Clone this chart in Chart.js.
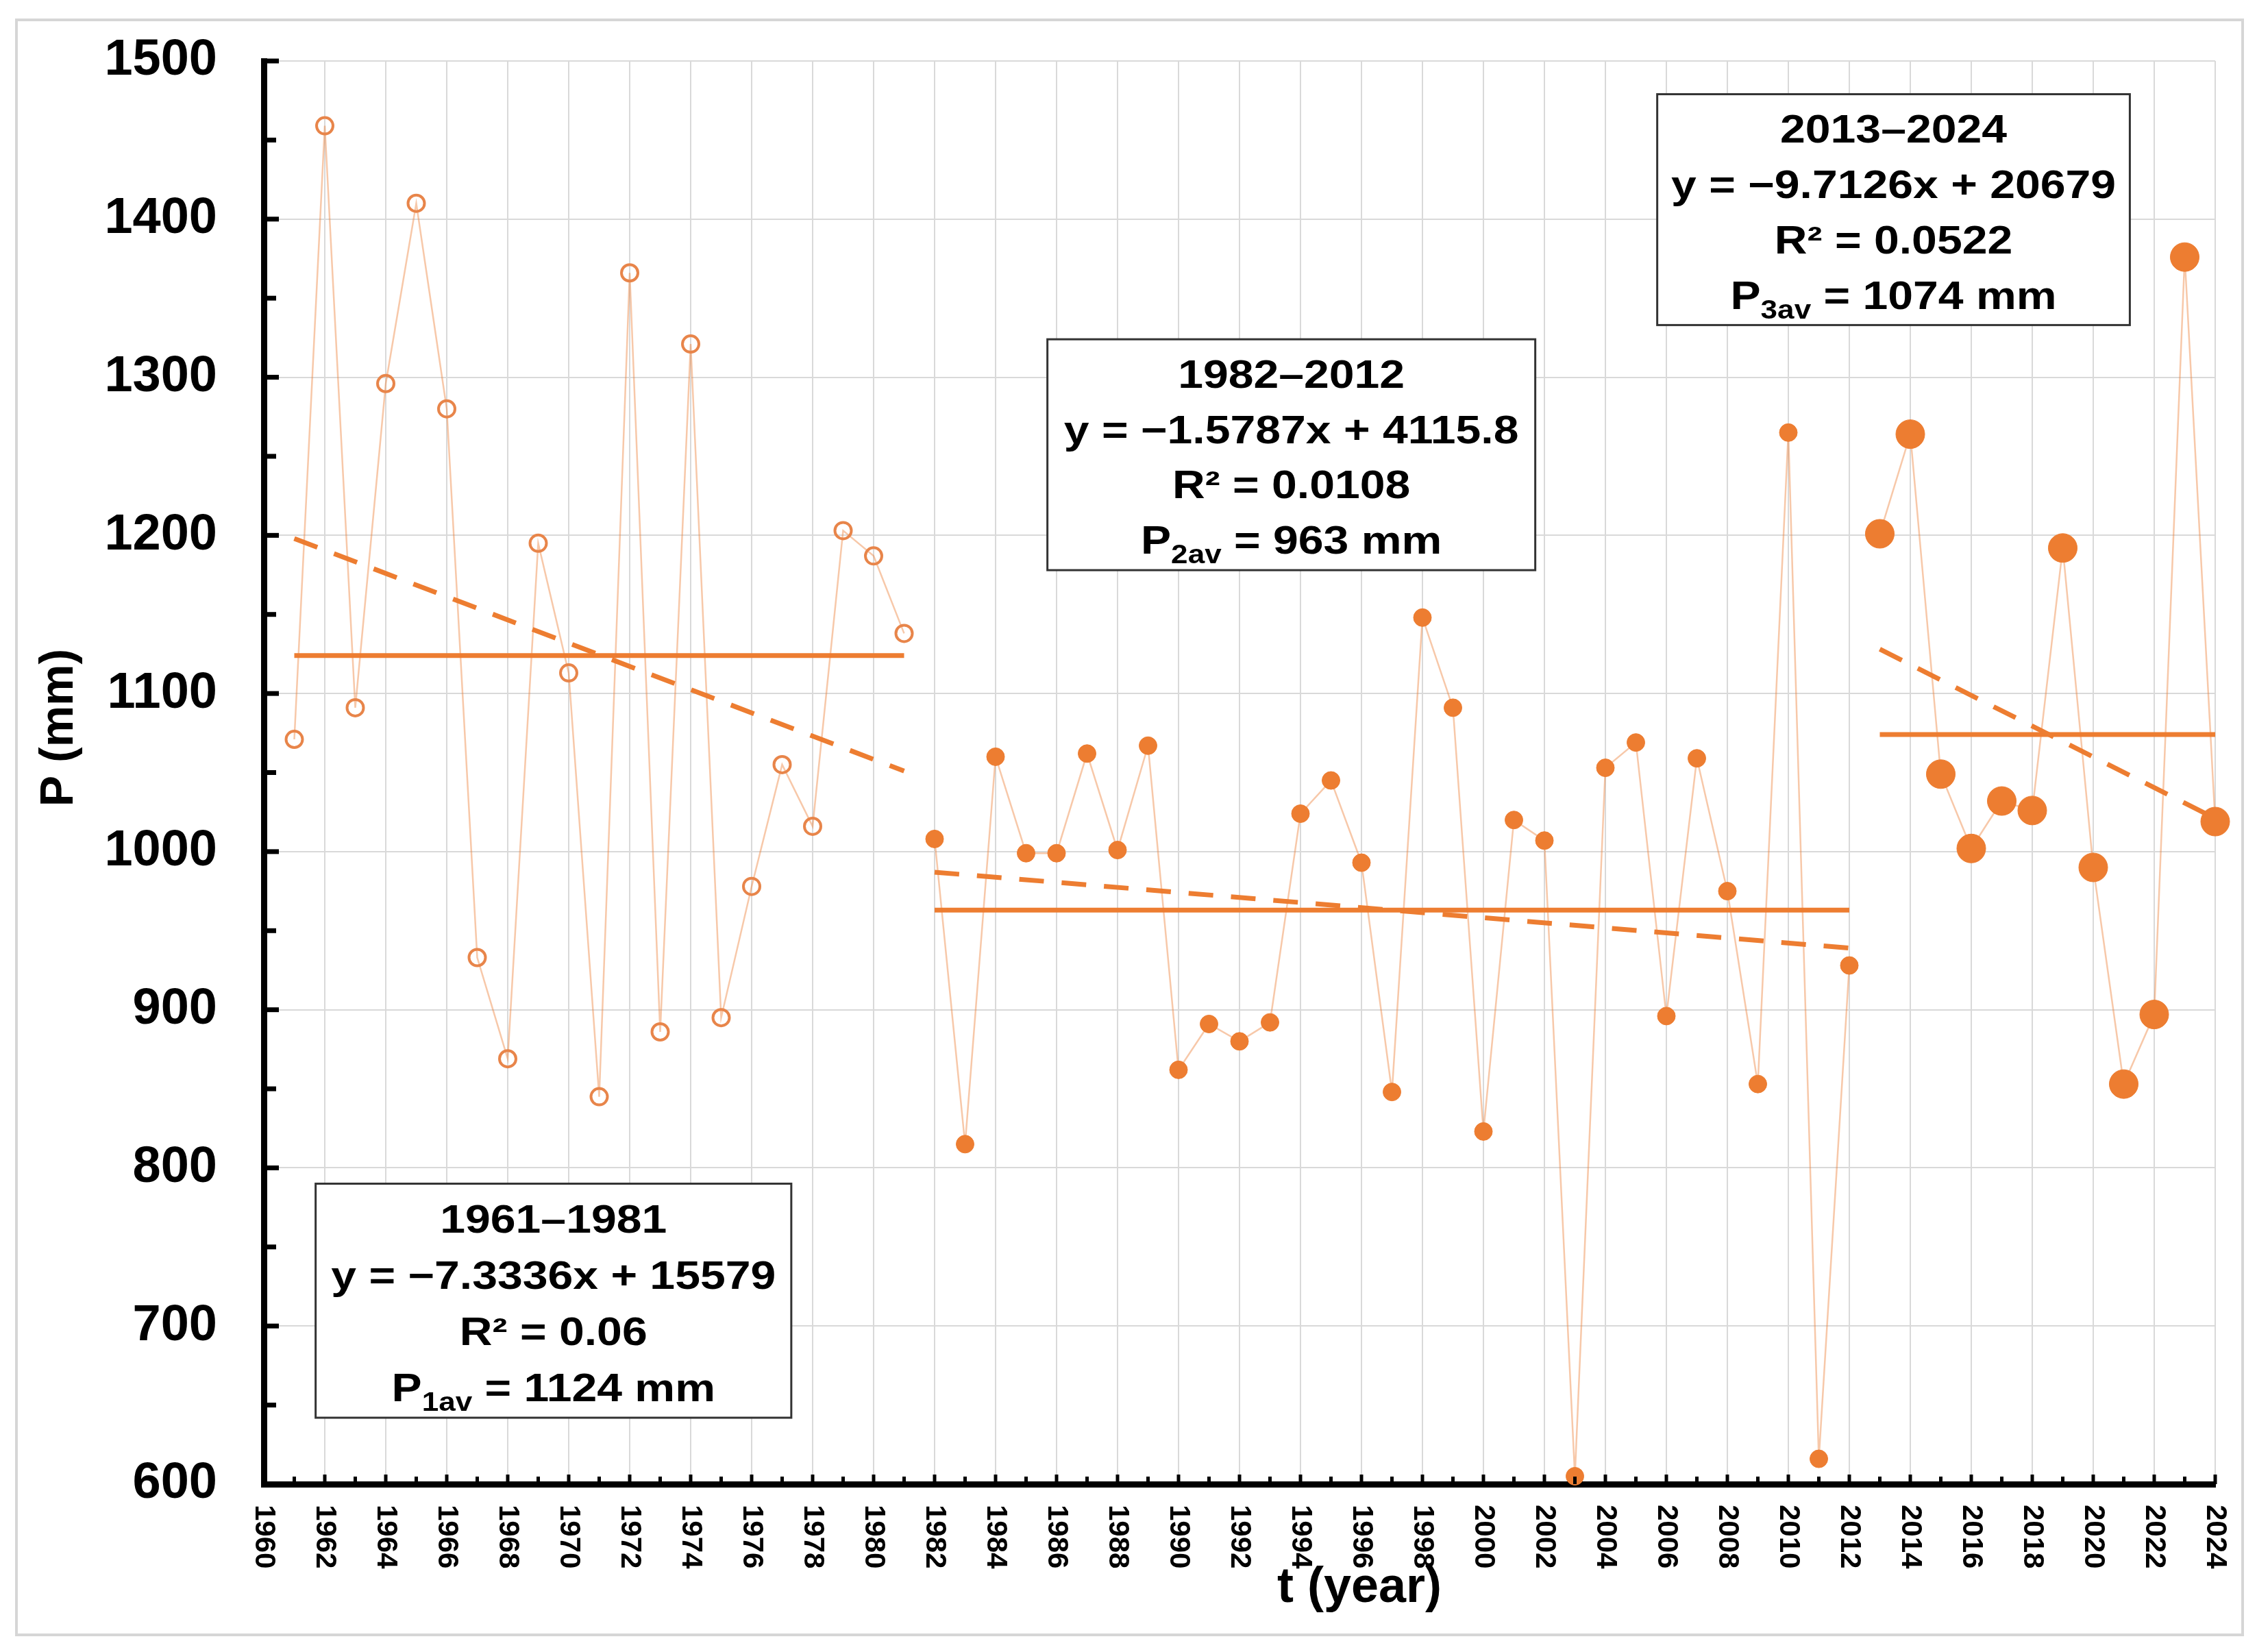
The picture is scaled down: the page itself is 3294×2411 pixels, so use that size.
<!DOCTYPE html>
<html>
<head>
<meta charset="utf-8">
<script src="https://cdn.jsdelivr.net/npm/chart.js@4.4.1/dist/chart.umd.min.js"></script>
<style>
    html, body { margin: 0; padding: 0; background: #fff; }
    #wrap { width: 3294px; height: 2411px; position: relative; }
</style>
</head>
<body>
<div id="wrap"><canvas id="myChart"></canvas></div>
<script>
// Annual precipitation P (mm), split into three periods
const years1 = [1961, 1962, 1963, 1964, 1965, 1966, 1967, 1968, 1969, 1970, 1971,
                1972, 1973, 1974, 1975, 1976, 1977, 1978, 1979, 1980, 1981];
const precip1 = [1071, 1459, 1091, 1296, 1410, 1280, 933, 869, 1195, 1113, 845,
                 1366, 886, 1321, 895, 978, 1055, 1016, 1203, 1187, 1138];

const years2 = [1982, 1983, 1984, 1985, 1986, 1987, 1988, 1989, 1990, 1991, 1992,
                1993, 1994, 1995, 1996, 1997, 1998, 1999, 2000, 2001, 2002, 2003,
                2004, 2005, 2006, 2007, 2008, 2009, 2010, 2011, 2012];
const precip2 = [1008, 815, 1060, 999, 999, 1062, 1001, 1067, 862, 891, 880,
                 892, 1024, 1045, 993, 848, 1148, 1091, 823, 1020, 1007, 605,
                 1053, 1069, 896, 1059, 975, 853, 1265, 616, 928];

const years3 = [2013, 2014, 2015, 2016, 2017, 2018, 2019, 2020, 2021, 2022, 2023, 2024];
const precip3 = [1201, 1264, 1049, 1002, 1032, 1026, 1192, 990, 853, 897, 1376, 1019];

// trend line and mean line end points
const trendYears1 = [1961, 1981];
const trend1 = [1198, 1051];
const mean1 = [1124, 1124];
const trendYears2 = [1982, 2012];
const trend2 = [987, 939];
const mean2 = [963, 963];
const trendYears3 = [2013, 2024];
const trend3 = [1128, 1021];
const mean3 = [1074, 1074];

// annotation texts
const boxPeriods = ['1961\u20131981', '1982\u20132012', '2013\u20132024'];
const boxEquations = ['y = \u22127.3336x + 15579', 'y = \u22121.5787x + 4115.8', 'y = \u22129.7126x + 20679'];
const boxR2 = ['R\u00b2 = 0.06', 'R\u00b2 = 0.0108', 'R\u00b2 = 0.0522'];
const boxSubs = ['1av', '2av', '3av'];
const boxMeans = ['1124 mm', '963 mm', '1074 mm'];

const ORANGE = '#ED7D31';
const FONT = "'Liberation Sans', Arial, sans-serif";

function toPoints(xs, ys) {
    return xs.map((x, i) => ({ x: x, y: ys[i] }));
}

// box corners in chart units (year, mm)
const boxPlaces = [
    { x0: 1961.7, x1: 1977.3, y0: 790, y1: 642 },
    { x0: 1985.7, x1: 2001.7, y0: 1324, y1: 1178 },
    { x0: 2005.7, x1: 2021.2, y0: 1479, y1: 1333 }
];

function drawBox(ctx, xs, ys, place, i) {
    const l = xs.getPixelForValue(place.x0), r = xs.getPixelForValue(place.x1);
    const t = ys.getPixelForValue(place.y0), b = ys.getPixelForValue(place.y1);
    ctx.fillStyle = '#fff';
    ctx.fillRect(l, t, r - l, b - t);
    ctx.strokeStyle = '#333';
    ctx.lineWidth = 3;
    ctx.strokeRect(l, t, r - l, b - t);

    const h = b - t, cx = (l + r) / 2;
    const main = 'bold 57px ' + FONT, sub = 'bold 38px ' + FONT;
    const plain = [boxPeriods[i], boxEquations[i], boxR2[i]];
    ctx.fillStyle = '#000';
    ctx.textBaseline = 'alphabetic';
    plain.forEach((txt, k) => {
        const cy = t + h * (0.15 + 0.24 * k);
        ctx.save();
        ctx.translate(cx, cy + 20);
        ctx.scale(1.16, 1);
        ctx.font = main;
        ctx.textAlign = 'center';
        ctx.fillText(txt, 0, 0);
        ctx.restore();
    });
    // last line with subscript
    const cy = t + h * (0.15 + 0.24 * 3);
    ctx.save();
    ctx.translate(cx, cy + 20);
    ctx.scale(1.16, 1);
    ctx.textAlign = 'left';
    ctx.font = main;
    const wP = ctx.measureText('P').width;
    const rest = ' = ' + boxMeans[i];
    const wRest = ctx.measureText(rest).width;
    ctx.font = sub;
    const wSub = ctx.measureText(boxSubs[i]).width;
    let x = -(wP + wSub + wRest) / 2;
    ctx.font = main;
    ctx.fillText('P', x, 0);
    x += wP;
    ctx.font = sub;
    ctx.fillText(boxSubs[i], x, 14);
    x += wSub;
    ctx.font = main;
    ctx.fillText(rest, x, 0);
    ctx.restore();
}

const decorPlugin = {
    id: 'decor',
    beforeDraw(chart) {
        const ctx = chart.ctx;
        ctx.save();
        ctx.fillStyle = '#fff';
        ctx.fillRect(0, 0, chart.width, chart.height);
        ctx.strokeStyle = '#d6d6d6';
        ctx.lineWidth = 4;
        ctx.strokeRect(24, 29, 3249, 2357);
        ctx.restore();
    },
    afterDatasetsDraw(chart) {
        const ctx = chart.ctx;
        const xs = chart.scales.x, ys = chart.scales.y;
        ctx.save();
        boxPlaces.forEach((p, i) => drawBox(ctx, xs, ys, p, i));
        ctx.restore();
    },
    afterDraw(chart) {
        const ctx = chart.ctx;
        const xs = chart.scales.x, ys = chart.scales.y;
        const area = chart.chartArea;
        ctx.save();
        ctx.strokeStyle = '#000';
        // y ticks, inward, every 50
        ctx.lineWidth = 7;
        for (let v = ys.min + 50; v <= ys.max; v += 50) {
            const y = ys.getPixelForValue(v);
            ctx.beginPath();
            ctx.moveTo(area.left, y);
            ctx.lineTo(area.left + (v % 100 === 0 ? 22 : 18), y);
            ctx.stroke();
        }
        // x ticks, inward, every year
        ctx.lineWidth = 5;
        for (let yr = xs.min + 1; yr <= xs.max; yr++) {
            const x = xs.getPixelForValue(yr);
            ctx.beginPath();
            ctx.moveTo(x, area.bottom);
            ctx.lineTo(x, area.bottom - (yr % 2 === 0 ? 14 : 11));
            ctx.stroke();
        }
        // x tick labels, rotated to read downwards
        ctx.fillStyle = '#000';
        ctx.font = 'bold 42px ' + FONT;
        ctx.textAlign = 'left';
        ctx.textBaseline = 'middle';
        xs.ticks.forEach(t => {
            const x = xs.getPixelForValue(t.value);
            ctx.save();
            ctx.translate(x, area.bottom + 30);
            ctx.rotate(Math.PI / 2);
            ctx.fillText(String(t.value), 0, 0);
            ctx.restore();
        });
        // axis titles
        ctx.font = 'bold 72px ' + FONT;
        ctx.textAlign = 'center';
        ctx.fillText('t (year)', area.left + 1599, area.bottom + 152);
        ctx.save();
        ctx.translate(area.left - 298, area.top + 973);
        ctx.rotate(-Math.PI / 2);
        ctx.font = 'bold 68px ' + FONT;
        ctx.fillText('P (mm)', 0, 0);
        ctx.restore();
        ctx.restore();
    }
};

const dataLine = 'rgba(237, 125, 49, 0.42)';

const ctx = document.getElementById('myChart').getContext('2d');
new Chart(ctx, {
    type: 'line',
    data: {
        datasets: [
            {
                label: '1961-1981',
                data: toPoints(years1, precip1),
                borderColor: dataLine,
                borderWidth: 2.5,
                pointRadius: 12,
                pointBorderWidth: 4,
                pointBorderColor: '#E8854A',
                pointBackgroundColor: 'rgba(255,255,255,0)',
                tension: 0,
                clip: false
            },
            {
                label: '1982-2012',
                data: toPoints(years2, precip2),
                borderColor: dataLine,
                borderWidth: 2.5,
                pointRadius: 13,
                pointBorderWidth: 1,
                pointBorderColor: ORANGE,
                pointBackgroundColor: ORANGE,
                tension: 0,
                clip: false
            },
            {
                label: '2013-2024',
                data: toPoints(years3, precip3),
                borderColor: dataLine,
                borderWidth: 2.5,
                pointRadius: 21,
                pointBorderWidth: 1,
                pointBorderColor: ORANGE,
                pointBackgroundColor: ORANGE,
                tension: 0,
                clip: false
            },
            { data: toPoints(trendYears1, trend1), borderColor: ORANGE, borderWidth: 7, borderDash: [36, 26], pointRadius: 0 },
            { data: toPoints(trendYears1, mean1), borderColor: ORANGE, borderWidth: 7, pointRadius: 0 },
            { data: toPoints(trendYears2, trend2), borderColor: ORANGE, borderWidth: 7, borderDash: [36, 26], pointRadius: 0 },
            { data: toPoints(trendYears2, mean2), borderColor: ORANGE, borderWidth: 7, pointRadius: 0 },
            { data: toPoints(trendYears3, trend3), borderColor: ORANGE, borderWidth: 7, borderDash: [36, 26], pointRadius: 0 },
            { data: toPoints(trendYears3, mean3), borderColor: ORANGE, borderWidth: 7, pointRadius: 0 }
        ]
    },
    options: {
        responsive: true,
        maintainAspectRatio: false,
        devicePixelRatio: 1,
        animation: false,
        events: [],
        layout: { padding: { left: 0, top: 89, right: 61, bottom: 0 } },
        plugins: { legend: { display: false }, tooltip: { enabled: false } },
        scales: {
            x: {
                type: 'linear',
                min: 1960,
                max: 2024,
                ticks: { stepSize: 2, display: false },
                grid: { color: '#d9d9d9', lineWidth: 2, drawTicks: false },
                border: { color: '#000', width: 9 },
                afterFit: scale => {
                    scale.height = 245;
                    scale.paddingLeft = 0;
                    scale.paddingRight = 0;
                }
            },
            y: {
                min: 600,
                max: 1500,
                ticks: {
                    stepSize: 100,
                    padding: 68,
                    color: '#000',
                    font: { family: FONT, size: 74, weight: 'bold' },
                    callback: v => String(v)
                },
                grid: { color: '#d9d9d9', lineWidth: 2, drawTicks: false },
                border: { color: '#000', width: 9 },
                afterFit: scale => {
                    scale.width = 385;
                    scale.paddingTop = 0;
                    scale.paddingBottom = 0;
                }
            }
        }
    },
    plugins: [decorPlugin]
});
</script>
</body>
</html>
